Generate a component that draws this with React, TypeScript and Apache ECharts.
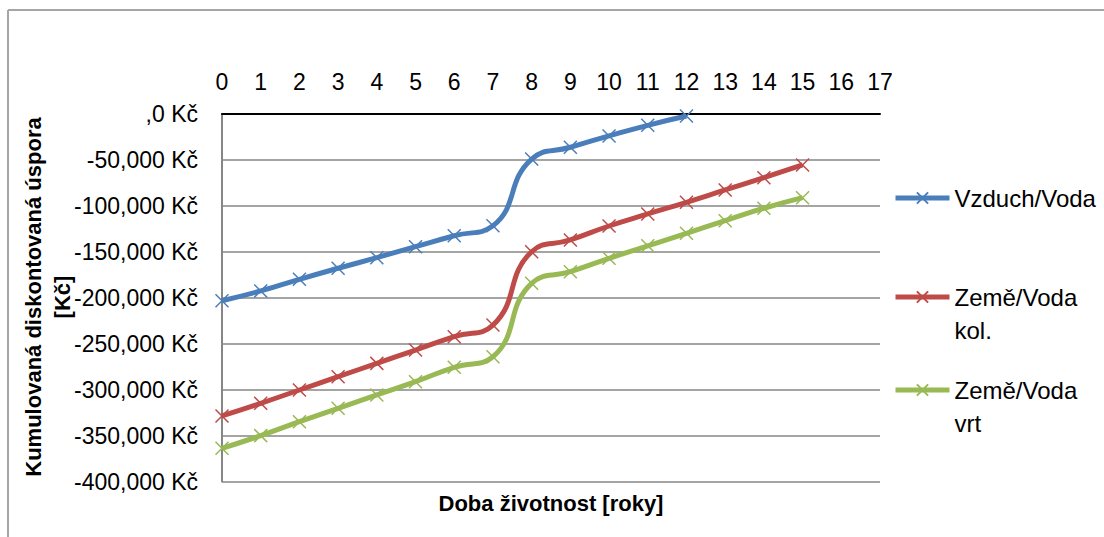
import React, { useEffect, useRef } from 'react';
import * as echarts from 'echarts';

const years = [0, 1, 2, 3, 4, 5, 6, 7, 8, 9, 10, 11, 12, 13, 14, 15];
const seriesNames = ['Vzduch/Voda', 'Země/Voda kol.', 'Země/Voda vrt'];
const vzduchVoda = [-203200, -192600, -179900, -167900, -156400, -144400, -132500, -121600, -49000, -36200, -23900, -12300, -2200];
const zemeVodaKol = [-328700, -314900, -300400, -285900, -271400, -256900, -242400, -229700, -149900, -137100, -121900, -108800, -96100, -82700, -69300, -55500];
const zemeVodaVrt = [-363900, -350100, -334900, -320300, -305800, -291400, -275700, -264200, -184300, -171600, -157100, -143500, -129800, -116100, -102600, -91100];
const colors = ['#4A7EBB', '#BE4B48', '#98B954'];
const xAxisTitle = 'Doba životnost [roky]';
const yAxisTitle = ['Kumulovaná diskontovaná úspora', '[Kč]'];

const FONT = 'Liberation Sans';
const CROSS = 'path://M0,0L10,10M10,0L0,10';

function fmtY(v: number): string {
  if (v === 0) return ',0 Kč';
  const abs = Math.abs(v);
  const s = abs.toString().replace(/\B(?=(\d{3})+(?!\d))/g, ',');
  return (v < 0 ? '-' : '') + s + ' Kč';
}

export default function App() {
  const ref = useRef<HTMLDivElement>(null);
  useEffect(() => {
    if (!ref.current) return;
    const chart = echarts.init(ref.current, undefined, { renderer: 'svg' });
    const allValues = [vzduchVoda, zemeVodaKol, zemeVodaVrt];
    const series = allValues.map((vals, i) => ({
      name: seriesNames[i],
      type: 'line',
      smooth: 0.5,
      data: vals.map((v, j) => [years[j], v]),
      symbol: CROSS,
      symbolSize: 13,
      showAllSymbol: true,
      lineStyle: { color: colors[i], width: 5 },
      itemStyle: { color: colors[i], borderColor: colors[i], borderWidth: 1.5 },
      z: 5 - i,
    }));
    const iconCenters = [198, 297, 390];
    const legends = seriesNames.map((n, i) => {
      const multi = n.indexOf(' ') >= 0;
      const textH = multi ? 99 : 33;
      return {
        data: [n],
        orient: 'vertical',
        left: 893,
        top: iconCenters[i] - textH / 2,
        padding: 0,
        itemWidth: 54,
        itemHeight: 14,
        selectedMode: false,
        lineStyle: { width: 5 },
        formatter: (name: string) => (name.indexOf(' ') >= 0 ? '\n' + name.replace(' ', '\n') : name),
        textStyle: {
          fontFamily: FONT,
          fontSize: 24,
          color: '#000',
          lineHeight: 33,
        },
      };
    });
    chart.setOption({
      animation: false,
      backgroundColor: '#fff',
      grid: { left: 222, top: 114, width: 658, height: 367.5, containLabel: false },
      xAxis: {
        type: 'value',
        position: 'top',
        min: 0,
        max: 17,
        interval: 1,
        axisLine: { show: true, onZero: false, lineStyle: { color: '#000', width: 2 } },
        axisTick: { show: false },
        splitLine: { show: false },
        axisLabel: { margin: 21, fontFamily: FONT, fontSize: 23, color: '#000' },
      },
      yAxis: {
        type: 'value',
        min: -400000,
        max: 0,
        interval: 50000,
        axisLine: { show: true, onZero: false, lineStyle: { color: '#868686', width: 2 } },
        axisTick: { show: false },
        splitLine: { show: true, lineStyle: { color: '#868686', width: 1.5 } },
        axisLabel: { margin: 24, fontFamily: FONT, fontSize: 23, color: '#000', formatter: fmtY },
      },
      legend: legends,
      graphic: [
        { type: 'line', shape: { x1: 8, y1: 10, x2: 1104, y2: 10 }, style: { stroke: '#a6a6a6', lineWidth: 2 } },
        { type: 'line', shape: { x1: 8, y1: 10, x2: 8, y2: 537 }, style: { stroke: '#a6a6a6', lineWidth: 2 } },
        {
          type: 'text', x: 33, y: 297, rotation: Math.PI / 2,
          style: { text: yAxisTitle[0], fontFamily: FONT, fontSize: 22, fontWeight: 'bold', fill: '#000', align: 'center', verticalAlign: 'middle' },
        },
        {
          type: 'text', x: 62, y: 297, rotation: Math.PI / 2,
          style: { text: yAxisTitle[1], fontFamily: FONT, fontSize: 22, fontWeight: 'bold', fill: '#000', align: 'center', verticalAlign: 'middle' },
        },
        {
          type: 'text', x: 551, y: 503,
          style: { text: xAxisTitle, fontFamily: FONT, fontSize: 22, fontWeight: 'bold', fill: '#000', align: 'center', verticalAlign: 'middle' },
        },
      ],
      series,
    });
    return () => chart.dispose();
  }, []);
  return <div ref={ref} style={{ position: 'absolute', left: 0, top: 0, width: 1104, height: 537 }} />;
}
